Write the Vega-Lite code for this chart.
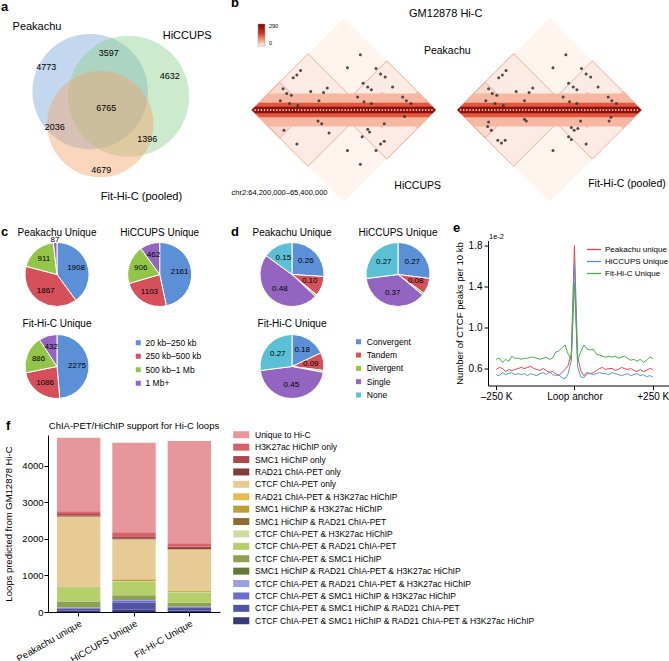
{
"$schema": "https://vega.github.io/schema/vega-lite/v6.json",
"padding": {"left": 1, "top": -3, "right": 0, "bottom": 0},
"background": "white",
"config": {
  "font": "Liberation Sans",
  "view": {"stroke": null},
  "title": {"fontSize": 13, "fontWeight": "bold", "anchor": "start", "frame": "group", "offset": -2, "color": "#000"},
  "axis": {"grid": false, "domainColor": "#000", "tickColor": "#000", "labelColor": "#000", "titleColor": "#000", "titleFontWeight": "normal", "tickSize": 4, "labelFontSize": 10, "titleFontSize": 9.5, "labelPadding": 2},
  "legend": {"labelColor": "#000", "padding": 0},
  "text": {"color": "#000"}
},
"spacing": 18.5,
"resolve": {"scale": {"color": "independent", "size": "independent", "theta": "independent"}, "legend": {"color": "independent", "size": "independent"}},
"vconcat": [
{
 "spacing": 0,
 "resolve": {"scale": {"color": "independent", "size": "independent"}, "legend": {"color": "independent", "size": "independent"}},
 "hconcat": [
  {
   "width": 230, "height": 185,
   "title": {"text": "a", "anchor": "start", "frame": "group", "offset": 4},
   "layer": [
    {
     "data": {"values": [
       {"set": "Peakachu", "cx": 0, "cy": 0, "r": 1.003},
       {"set": "HiCCUPS", "cx": 0.592, "cy": -0.071, "r": 1.051},
       {"set": "Fit-Hi-C (pooled)", "cx": 0.155, "cy": -0.497, "r": 0.923}
     ]},
     "mark": {"type": "point", "shape": "circle", "filled": true, "opacity": 0.45, "strokeWidth": 0},
     "encoding": {
       "x": {"field": "cx", "type": "quantitative", "scale": {"domain": [-1.372, 2.166], "nice": false, "zero": false}, "axis": null},
       "y": {"field": "cy", "type": "quantitative", "scale": {"domain": [-1.712, 1.134], "nice": false, "zero": false}, "axis": null},
       "size": {"field": "r", "type": "quantitative", "scale": {"type": "pow", "exponent": 2, "domain": [0, 1], "range": [0, 13273], "nice": false}, "legend": null},
       "color": {"field": "set", "type": "nominal", "scale": {"domain": ["Peakachu", "HiCCUPS", "Fit-Hi-C (pooled)"], "range": ["#7aa6da", "#8fd18f", "#f5a36c"]}, "legend": null}
     }
    },
    {
     "data": {"values": [
       {"set": "Peakachu", "lx": -0.818, "ly": 0.991},
       {"set": "HiCCUPS", "lx": 1.492, "ly": 0.862},
       {"set": "Fit-Hi-C (pooled)", "lx": 0.789, "ly": -1.625}
     ]},
     "mark": {"type": "text", "fontSize": 11},
     "encoding": {
       "x": {"field": "lx", "type": "quantitative", "axis": null},
       "y": {"field": "ly", "type": "quantitative", "axis": null},
       "text": {"field": "set"}
     }
    },
    {
     "data": {"values": [
       {"region": "Peakachu only", "n": 4773, "lx": -0.675, "ly": 0.375},
       {"region": "Peakachu & HiCCUPS", "n": 3597, "lx": 0.285, "ly": 0.591},
       {"region": "HiCCUPS only", "n": 4632, "lx": 1.223, "ly": 0.237},
       {"region": "All three", "n": 6765, "lx": 0.248, "ly": -0.251},
       {"region": "Peakachu & Fit-Hi-C", "n": 2036, "lx": -0.546, "ly": -0.538},
       {"region": "HiCCUPS & Fit-Hi-C", "n": 1396, "lx": 0.878, "ly": -0.728},
       {"region": "Fit-Hi-C only", "n": 4679, "lx": 0.171, "ly": -1.2}
     ]},
     "mark": {"type": "text", "fontSize": 9},
     "encoding": {
       "x": {"field": "lx", "type": "quantitative", "axis": null},
       "y": {"field": "ly", "type": "quantitative", "axis": null},
       "text": {"field": "n", "type": "quantitative", "format": "d"}
     }
    }
   ]
  },
  {
   "width": 439, "height": 185,
   "title": {"text": "b", "anchor": "start", "frame": "group"},
   "layer": [
    {
     "data": {"values": [
       {"panel": "L", "x": 0, "r": 1.0, "v": 4},
       {"panel": "L", "x": -0.389, "r": 0.612, "v": 10},
       {"panel": "L", "x": 0.468, "r": 0.534, "v": 10},
       {"panel": "L", "x": -0.697, "r": 0.304, "v": 24},
       {"panel": "L", "x": -0.23, "r": 0.163, "v": 30},
       {"panel": "L", "x": 0.078, "r": 0.145, "v": 30},
       {"panel": "L", "x": 0.413, "r": 0.19, "v": 30},
       {"panel": "L", "x": 0.803, "r": 0.2, "v": 27},
       {"panel": "R", "x": 2.234, "r": 1.0, "v": 4},
       {"panel": "R", "x": 1.845, "r": 0.612, "v": 10},
       {"panel": "R", "x": 2.702, "r": 0.534, "v": 10},
       {"panel": "R", "x": 1.537, "r": 0.304, "v": 24},
       {"panel": "R", "x": 2.004, "r": 0.163, "v": 30},
       {"panel": "R", "x": 2.312, "r": 0.145, "v": 30},
       {"panel": "R", "x": 2.647, "r": 0.19, "v": 30},
       {"panel": "R", "x": 3.037, "r": 0.2, "v": 27}
     ]},
     "mark": {"type": "point", "shape": "diamond", "filled": true, "opacity": 1, "strokeWidth": 0},
     "encoding": {
       "x": {"field": "x", "type": "quantitative", "scale": {"domain": [-1.226, 3.546], "nice": false, "zero": false}, "axis": null},
       "y": {"datum": 0, "type": "quantitative", "scale": {"domain": [-1.011, 1.0], "nice": false, "zero": false}, "axis": null},
       "size": {"field": "r", "type": "quantitative", "scale": {"type": "pow", "exponent": 2, "domain": [0, 1], "range": [0, 33856], "nice": false}, "legend": null},
       "color": {"field": "v", "type": "quantitative",
         "scale": {"domain": [0, 10, 30, 80, 160, 290], "range": ["#ffffff", "#fceae4", "#f8d3c6", "#f29a82", "#d93a26", "#7a0000"], "nice": false},
         "legend": {"orient": "none", "legendX": 27, "legendY": 6, "title": null, "direction": "vertical", "gradientLength": 22, "gradientThickness": 7, "labelFontSize": 5.5, "values": [0, 290], "labelOffset": 4, "gradientStrokeColor": "#999", "gradientStrokeWidth": 0.5, "labelOverlap": false}}
     }
    },
    {
     "data": {"values": [
       {"x": -0.389, "r": 0.612}, {"x": 0.468, "r": 0.534}, {"x": -0.697, "r": 0.304}, {"x": -0.23, "r": 0.163},
       {"x": 0.078, "r": 0.145}, {"x": 0.413, "r": 0.19}, {"x": 0.803, "r": 0.2},
       {"x": 1.845, "r": 0.612}, {"x": 2.702, "r": 0.534}, {"x": 1.537, "r": 0.304}, {"x": 2.004, "r": 0.163},
       {"x": 2.312, "r": 0.145}, {"x": 2.647, "r": 0.19}, {"x": 3.037, "r": 0.2}
     ]},
     "mark": {"type": "point", "shape": "diamond", "filled": false, "opacity": 1, "stroke": "#f0a58f", "strokeWidth": 0.9},
     "encoding": {
       "x": {"field": "x", "type": "quantitative", "axis": null},
       "y": {"datum": 0, "type": "quantitative", "axis": null},
       "size": {"field": "r", "type": "quantitative", "legend": null}
     }
    },
    {
     "data": {"values": [
       {"band": "L1", "x": -1, "y": 0, "y2": 0, "v": 55},
       {"band": "L1", "x": -0.82, "y": 0.18, "y2": -0.18, "v": 55},
       {"band": "L1", "x": 0.82, "y": 0.18, "y2": -0.18, "v": 55},
       {"band": "L1", "x": 1, "y": 0, "y2": 0, "v": 55},
       {"band": "L2", "x": -1, "y": 0, "y2": 0, "v": 140},
       {"band": "L2", "x": -0.92, "y": 0.08, "y2": -0.08, "v": 140},
       {"band": "L2", "x": 0.92, "y": 0.08, "y2": -0.08, "v": 140},
       {"band": "L2", "x": 1, "y": 0, "y2": 0, "v": 140},
       {"band": "L3", "x": -1, "y": 0, "y2": 0, "v": 260},
       {"band": "L3", "x": -0.965, "y": 0.035, "y2": -0.035, "v": 260},
       {"band": "L3", "x": 0.965, "y": 0.035, "y2": -0.035, "v": 260},
       {"band": "L3", "x": 1, "y": 0, "y2": 0, "v": 260},
       {"band": "R1", "x": 1.234, "y": 0, "y2": 0, "v": 55},
       {"band": "R1", "x": 1.414, "y": 0.18, "y2": -0.18, "v": 55},
       {"band": "R1", "x": 3.054, "y": 0.18, "y2": -0.18, "v": 55},
       {"band": "R1", "x": 3.234, "y": 0, "y2": 0, "v": 55},
       {"band": "R2", "x": 1.234, "y": 0, "y2": 0, "v": 140},
       {"band": "R2", "x": 1.314, "y": 0.08, "y2": -0.08, "v": 140},
       {"band": "R2", "x": 3.154, "y": 0.08, "y2": -0.08, "v": 140},
       {"band": "R2", "x": 3.234, "y": 0, "y2": 0, "v": 140},
       {"band": "R3", "x": 1.234, "y": 0, "y2": 0, "v": 260},
       {"band": "R3", "x": 1.269, "y": 0.035, "y2": -0.035, "v": 260},
       {"band": "R3", "x": 3.199, "y": 0.035, "y2": -0.035, "v": 260},
       {"band": "R3", "x": 3.234, "y": 0, "y2": 0, "v": 260}
     ]},
     "mark": {"type": "area", "opacity": 1, "interpolate": "linear"},
     "encoding": {
       "x": {"field": "x", "type": "quantitative", "axis": null},
       "y": {"field": "y", "type": "quantitative", "axis": null},
       "y2": {"field": "y2"},
       "detail": {"field": "band"},
       "color": {"field": "v", "type": "quantitative"}
     }
    },
    {
     "data": {"values": [{"x": -0.97, "x2": 0.97}, {"x": 1.264, "x2": 3.204}]},
     "mark": {"type": "rule", "color": "white", "strokeWidth": 1.3, "strokeDash": [1.3, 1.8]},
     "encoding": {
       "x": {"field": "x", "type": "quantitative", "axis": null},
       "x2": {"field": "x2"},
       "y": {"datum": 0, "type": "quantitative", "axis": null}
     }
    },
    {
     "data": {"values": [
       {"x": 0.18, "y": 0.60}, {"x": 0.04, "y": 0.46}, {"x": 0.35, "y": 0.45}, {"x": 0.40, "y": 0.39}, {"x": 0.45, "y": 0.36},
       {"x": -0.47, "y": 0.43}, {"x": -0.51, "y": 0.38}, {"x": -0.55, "y": 0.35}, {"x": -0.18, "y": 0.24}, {"x": -0.36, "y": 0.20},
       {"x": -0.22, "y": 0.19}, {"x": 0.21, "y": 0.29}, {"x": 0.26, "y": 0.25}, {"x": 0.30, "y": 0.22}, {"x": 0.53, "y": 0.25},
       {"x": -0.66, "y": 0.23}, {"x": -0.62, "y": 0.18}, {"x": -0.57, "y": 0.16}, {"x": 0.15, "y": 0.14}, {"x": -0.69, "y": 0.10},
       {"x": -0.59, "y": 0.07}, {"x": -0.50, "y": 0.05}, {"x": -0.27, "y": 0.10}, {"x": 0.22, "y": 0.09}, {"x": 0.30, "y": 0.07},
       {"x": 0.64, "y": 0.14}, {"x": 0.68, "y": 0.10}, {"x": 0.73, "y": 0.07},
       {"x": 2.414, "y": 0.60}, {"x": 2.274, "y": 0.46}, {"x": 2.584, "y": 0.45}, {"x": 2.634, "y": 0.39}, {"x": 2.684, "y": 0.36},
       {"x": 1.764, "y": 0.43}, {"x": 1.724, "y": 0.38}, {"x": 1.684, "y": 0.35}, {"x": 2.054, "y": 0.24}, {"x": 1.874, "y": 0.20},
       {"x": 2.014, "y": 0.19}, {"x": 2.444, "y": 0.29}, {"x": 2.494, "y": 0.25}, {"x": 2.534, "y": 0.22}, {"x": 2.764, "y": 0.25},
       {"x": 1.574, "y": 0.23}, {"x": 1.614, "y": 0.18}, {"x": 1.664, "y": 0.16}, {"x": 2.384, "y": 0.14}, {"x": 1.544, "y": 0.10},
       {"x": 1.644, "y": 0.07}, {"x": 1.734, "y": 0.05}, {"x": 1.964, "y": 0.10}, {"x": 2.454, "y": 0.09}, {"x": 2.534, "y": 0.07},
       {"x": 2.874, "y": 0.14}, {"x": 2.914, "y": 0.10}, {"x": 2.964, "y": 0.07},
       {"x": -0.28, "y": -0.12}, {"x": -0.24, "y": -0.15}, {"x": -0.65, "y": -0.22}, {"x": -0.16, "y": -0.25}, {"x": -0.51, "y": -0.37},
       {"x": 0.04, "y": -0.44}, {"x": 0.35, "y": -0.44}, {"x": 0.18, "y": -0.59}, {"x": 0.44, "y": -0.15}, {"x": 0.26, "y": -0.21},
       {"x": 0.28, "y": -0.24}, {"x": 0.40, "y": -0.37}, {"x": 0.44, "y": -0.34}, {"x": 0.66, "y": -0.07}, {"x": 0.20, "y": -0.29},
       {"x": 1.564, "y": -0.18}, {"x": 1.604, "y": -0.22}, {"x": 1.574, "y": -0.13}, {"x": 1.674, "y": -0.33}, {"x": 1.714, "y": -0.36},
       {"x": 1.754, "y": -0.33}, {"x": 1.964, "y": -0.10}, {"x": 1.984, "y": -0.12}, {"x": 2.274, "y": -0.44}, {"x": 2.474, "y": -0.19},
       {"x": 2.504, "y": -0.22}, {"x": 2.544, "y": -0.20}, {"x": 2.444, "y": -0.29}, {"x": 2.474, "y": -0.32}, {"x": 2.574, "y": -0.12},
       {"x": 2.634, "y": -0.37}, {"x": 2.884, "y": -0.12}, {"x": 2.904, "y": -0.08}
     ]},
     "mark": {"type": "point", "shape": "circle", "filled": true, "size": 9, "color": "#3a3a3a", "opacity": 0.9},
     "encoding": {
       "x": {"field": "x", "type": "quantitative", "axis": null},
       "y": {"field": "y", "type": "quantitative", "axis": null}
     }
    },
    {
     "data": {"values": [
       {"label": "Peakachu", "x": 1.125, "y": 0.645},
       {"label": "HiCCUPS", "x": 0.803, "y": -0.823},
       {"label": "Fit-Hi-C (pooled)", "x": 3.078, "y": -0.804}
     ]},
     "mark": {"type": "text", "fontSize": 10.5},
     "encoding": {
       "x": {"field": "x", "type": "quantitative", "axis": null},
       "y": {"field": "y", "type": "quantitative", "axis": null},
       "text": {"field": "label"}
     }
    },
    {
     "data": {"values": [{"label": "GM12878 Hi-C", "x": 1.108, "y": 1.043}]},
     "mark": {"type": "text", "fontSize": 11},
     "encoding": {
       "x": {"field": "x", "type": "quantitative", "axis": null},
       "y": {"field": "y", "type": "quantitative", "axis": null},
       "text": {"field": "label"}
     }
    },
    {
     "data": {"values": [{"label": "chr2:64,200,000–65,400,000", "x": -1.22, "y": -0.905}]},
     "mark": {"type": "text", "fontSize": 7.5, "align": "left"},
     "encoding": {
       "x": {"field": "x", "type": "quantitative", "axis": null},
       "y": {"field": "y", "type": "quantitative", "axis": null},
       "text": {"field": "label"}
     }
    }
   ]
  }
 ]
},
{
 "spacing": 0,
 "resolve": {"scale": {"color": "independent", "theta": "independent"}, "legend": {"color": "independent"}},
 "hconcat": [
  {
   "width": 230, "height": 160,
   "title": {"text": "c", "anchor": "start", "frame": "group", "offset": -11},
   "data": {"values": [
     {"pie": "Peakachu Unique", "col": 1, "row": 1, "cat": "20 kb–250 kb", "k": 1, "n": 1908},
     {"pie": "Peakachu Unique", "col": 1, "row": 1, "cat": "250 kb–500 kb", "k": 2, "n": 1867},
     {"pie": "Peakachu Unique", "col": 1, "row": 1, "cat": "500 kb–1 Mb", "k": 3, "n": 911},
     {"pie": "Peakachu Unique", "col": 1, "row": 1, "cat": "1 Mb+", "k": 4, "n": 87},
     {"pie": "HiCCUPS Unique", "col": 2, "row": 1, "cat": "20 kb–250 kb", "k": 1, "n": 2161},
     {"pie": "HiCCUPS Unique", "col": 2, "row": 1, "cat": "250 kb–500 kb", "k": 2, "n": 1103},
     {"pie": "HiCCUPS Unique", "col": 2, "row": 1, "cat": "500 kb–1 Mb", "k": 3, "n": 906},
     {"pie": "HiCCUPS Unique", "col": 2, "row": 1, "cat": "1 Mb+", "k": 4, "n": 462},
     {"pie": "Fit-Hi-C Unique", "col": 1, "row": 2, "cat": "20 kb–250 kb", "k": 1, "n": 2275},
     {"pie": "Fit-Hi-C Unique", "col": 1, "row": 2, "cat": "250 kb–500 kb", "k": 2, "n": 1086},
     {"pie": "Fit-Hi-C Unique", "col": 1, "row": 2, "cat": "500 kb–1 Mb", "k": 3, "n": 886},
     {"pie": "Fit-Hi-C Unique", "col": 1, "row": 2, "cat": "1 Mb+", "k": 4, "n": 432}
   ]},
   "encoding": {
     "x": {"field": "col", "type": "quantitative", "scale": {"domain": [0.4547, 2.6943], "nice": false, "zero": false}, "axis": null},
     "y": {"field": "row", "type": "quantitative", "scale": {"domain": [0.6304, 2.3696], "reverse": true, "nice": false, "zero": false}, "axis": null}
   },
   "layer": [
    {"transform": [{"filter": {"field": "pie", "equal": "Peakachu Unique"}}],
     "mark": {"type": "arc", "outerRadius": 32, "stroke": "white", "strokeWidth": 1},
     "encoding": {"theta": {"field": "n", "type": "quantitative", "stack": "normalize"}, "order": {"field": "k", "type": "quantitative"},
       "color": {"field": "cat", "type": "nominal", "scale": {"domain": ["20 kb–250 kb", "250 kb–500 kb", "500 kb–1 Mb", "1 Mb+"], "range": ["#5b8fd6", "#d5505b", "#93c548", "#9465c0"]},
         "legend": {"orient": "none", "legendX": 133, "legendY": 98, "title": null, "symbolType": "square", "symbolSize": 25, "symbolStrokeWidth": 0, "labelFontSize": 8.5, "rowPadding": 4.5, "labelOffset": 3}}}},
    {"transform": [{"filter": {"field": "pie", "equal": "HiCCUPS Unique"}}],
     "mark": {"type": "arc", "outerRadius": 32, "stroke": "white", "strokeWidth": 1},
     "encoding": {"theta": {"field": "n", "type": "quantitative", "stack": "normalize"}, "order": {"field": "k", "type": "quantitative"},
       "color": {"field": "cat", "type": "nominal"}}},
    {"transform": [{"filter": {"field": "pie", "equal": "Fit-Hi-C Unique"}}],
     "mark": {"type": "arc", "outerRadius": 32, "stroke": "white", "strokeWidth": 1},
     "encoding": {"theta": {"field": "n", "type": "quantitative", "stack": "normalize"}, "order": {"field": "k", "type": "quantitative"},
       "color": {"field": "cat", "type": "nominal"}}},
    {"transform": [{"filter": {"field": "pie", "equal": "Peakachu Unique"}}],
     "mark": {"type": "text", "radius": 20, "fontSize": 8},
     "encoding": {"theta": {"field": "n", "type": "quantitative", "stack": "normalize"}, "order": {"field": "k", "type": "quantitative"}, "detail": {"field": "cat"},
       "text": {"condition": {"test": "datum.n >= 100", "field": "n", "type": "quantitative", "format": "d"}, "value": ""}}},
    {"transform": [{"filter": {"field": "pie", "equal": "Peakachu Unique"}}],
     "mark": {"type": "text", "radius": 35, "fontSize": 8},
     "encoding": {"theta": {"field": "n", "type": "quantitative", "stack": "normalize"}, "order": {"field": "k", "type": "quantitative"}, "detail": {"field": "cat"},
       "text": {"condition": {"test": "datum.n < 100", "field": "n", "type": "quantitative", "format": "d"}, "value": ""}}},
    {"transform": [{"filter": {"field": "pie", "equal": "HiCCUPS Unique"}}],
     "mark": {"type": "text", "radius": 20, "fontSize": 8},
     "encoding": {"theta": {"field": "n", "type": "quantitative", "stack": "normalize"}, "order": {"field": "k", "type": "quantitative"}, "detail": {"field": "cat"},
       "text": {"field": "n", "type": "quantitative", "format": "d"}}},
    {"transform": [{"filter": {"field": "pie", "equal": "Fit-Hi-C Unique"}}],
     "mark": {"type": "text", "radius": 20, "fontSize": 8},
     "encoding": {"theta": {"field": "n", "type": "quantitative", "stack": "normalize"}, "order": {"field": "k", "type": "quantitative"}, "detail": {"field": "cat"},
       "text": {"field": "n", "type": "quantitative", "format": "d"}}},
    {"data": {"values": [
       {"pie": "Peakachu Unique", "col": 1, "row": 1},
       {"pie": "HiCCUPS Unique", "col": 2, "row": 1},
       {"pie": "Fit-Hi-C Unique", "col": 1, "row": 2}
     ]},
     "mark": {"type": "text", "fontSize": 10, "dy": -42},
     "encoding": {"text": {"field": "pie"}}}
   ]
  },
  {
   "width": 222, "height": 160,
   "title": {"text": "d", "anchor": "start", "frame": "group", "offset": -11},
   "data": {"values": [
     {"pie": "Peakachu Unique", "col": 1, "row": 1, "cat": "Convergent", "k": 1, "f": 0.26},
     {"pie": "Peakachu Unique", "col": 1, "row": 1, "cat": "Tandem", "k": 2, "f": 0.10},
     {"pie": "Peakachu Unique", "col": 1, "row": 1, "cat": "Divergent", "k": 3, "f": 0.01},
     {"pie": "Peakachu Unique", "col": 1, "row": 1, "cat": "Single", "k": 4, "f": 0.48},
     {"pie": "Peakachu Unique", "col": 1, "row": 1, "cat": "None", "k": 5, "f": 0.15},
     {"pie": "HiCCUPS Unique", "col": 2, "row": 1, "cat": "Convergent", "k": 1, "f": 0.27},
     {"pie": "HiCCUPS Unique", "col": 2, "row": 1, "cat": "Tandem", "k": 2, "f": 0.08},
     {"pie": "HiCCUPS Unique", "col": 2, "row": 1, "cat": "Divergent", "k": 3, "f": 0.01},
     {"pie": "HiCCUPS Unique", "col": 2, "row": 1, "cat": "Single", "k": 4, "f": 0.37},
     {"pie": "HiCCUPS Unique", "col": 2, "row": 1, "cat": "None", "k": 5, "f": 0.27},
     {"pie": "Fit-Hi-C Unique", "col": 1, "row": 2, "cat": "Convergent", "k": 1, "f": 0.18},
     {"pie": "Fit-Hi-C Unique", "col": 1, "row": 2, "cat": "Tandem", "k": 2, "f": 0.09},
     {"pie": "Fit-Hi-C Unique", "col": 1, "row": 2, "cat": "Divergent", "k": 3, "f": 0.01},
     {"pie": "Fit-Hi-C Unique", "col": 1, "row": 2, "cat": "Single", "k": 4, "f": 0.45},
     {"pie": "Fit-Hi-C Unique", "col": 1, "row": 2, "cat": "None", "k": 5, "f": 0.27}
   ]},
   "encoding": {
     "x": {"field": "col", "type": "quantitative", "scale": {"domain": [0.4245, 2.5189], "nice": false, "zero": false}, "axis": null},
     "y": {"field": "row", "type": "quantitative", "scale": {"domain": [0.6304, 2.3696], "reverse": true, "nice": false, "zero": false}, "axis": null}
   },
   "layer": [
    {"transform": [{"filter": {"field": "pie", "equal": "Peakachu Unique"}}],
     "mark": {"type": "arc", "outerRadius": 32, "stroke": "white", "strokeWidth": 1},
     "encoding": {"theta": {"field": "f", "type": "quantitative", "stack": "normalize"}, "order": {"field": "k", "type": "quantitative"},
       "color": {"field": "cat", "type": "nominal", "scale": {"domain": ["Convergent", "Tandem", "Divergent", "Single", "None"], "range": ["#5b8fd6", "#d5505b", "#93c548", "#9465c0", "#5bc0d6"]},
         "legend": {"orient": "none", "legendX": 123.3, "legendY": 97, "title": null, "symbolType": "square", "symbolSize": 25, "symbolStrokeWidth": 0, "labelFontSize": 8.5, "rowPadding": 4.3, "labelOffset": 4}}}},
    {"transform": [{"filter": {"field": "pie", "equal": "HiCCUPS Unique"}}],
     "mark": {"type": "arc", "outerRadius": 32, "stroke": "white", "strokeWidth": 1},
     "encoding": {"theta": {"field": "f", "type": "quantitative", "stack": "normalize"}, "order": {"field": "k", "type": "quantitative"},
       "color": {"field": "cat", "type": "nominal"}}},
    {"transform": [{"filter": {"field": "pie", "equal": "Fit-Hi-C Unique"}}],
     "mark": {"type": "arc", "outerRadius": 32, "stroke": "white", "strokeWidth": 1},
     "encoding": {"theta": {"field": "f", "type": "quantitative", "stack": "normalize"}, "order": {"field": "k", "type": "quantitative"},
       "color": {"field": "cat", "type": "nominal"}}},
    {"transform": [{"filter": {"field": "pie", "equal": "Peakachu Unique"}}],
     "mark": {"type": "text", "radius": 19, "fontSize": 8},
     "encoding": {"theta": {"field": "f", "type": "quantitative", "stack": "normalize"}, "order": {"field": "k", "type": "quantitative"}, "detail": {"field": "cat"},
       "text": {"condition": {"test": "datum.cat !== 'Divergent'", "field": "f", "type": "quantitative", "format": ".2f"}, "value": ""}}},
    {"transform": [{"filter": {"field": "pie", "equal": "HiCCUPS Unique"}}],
     "mark": {"type": "text", "radius": 19, "fontSize": 8},
     "encoding": {"theta": {"field": "f", "type": "quantitative", "stack": "normalize"}, "order": {"field": "k", "type": "quantitative"}, "detail": {"field": "cat"},
       "text": {"condition": {"test": "datum.cat !== 'Divergent'", "field": "f", "type": "quantitative", "format": ".2f"}, "value": ""}}},
    {"transform": [{"filter": {"field": "pie", "equal": "Fit-Hi-C Unique"}}],
     "mark": {"type": "text", "radius": 19, "fontSize": 8},
     "encoding": {"theta": {"field": "f", "type": "quantitative", "stack": "normalize"}, "order": {"field": "k", "type": "quantitative"}, "detail": {"field": "cat"},
       "text": {"condition": {"test": "datum.cat !== 'Divergent'", "field": "f", "type": "quantitative", "format": ".2f"}, "value": ""}}},
    {"data": {"values": [
       {"pie": "Peakachu Unique", "col": 1, "row": 1},
       {"pie": "HiCCUPS Unique", "col": 2, "row": 1},
       {"pie": "Fit-Hi-C Unique", "col": 1, "row": 2}
     ]},
     "mark": {"type": "text", "fontSize": 10, "dy": -42},
     "encoding": {"text": {"field": "pie"}}}
   ]
  },
  {
   "width": 181, "height": 145,
   "title": {"text": "e", "anchor": "start", "frame": "group", "dx": -35},
   "layer": [
    {
     "data": {"values": [
{"s":"Peakachu unique","pos":-250,"v":0.59},{"s":"Peakachu unique","pos":-240,"v":0.61},{"s":"Peakachu unique","pos":-230,"v":0.60},{"s":"Peakachu unique","pos":-220,"v":0.57},{"s":"Peakachu unique","pos":-210,"v":0.59},{"s":"Peakachu unique","pos":-200,"v":0.58},{"s":"Peakachu unique","pos":-190,"v":0.59},{"s":"Peakachu unique","pos":-180,"v":0.60},{"s":"Peakachu unique","pos":-170,"v":0.61},{"s":"Peakachu unique","pos":-160,"v":0.60},{"s":"Peakachu unique","pos":-150,"v":0.61},{"s":"Peakachu unique","pos":-140,"v":0.62},{"s":"Peakachu unique","pos":-130,"v":0.60},{"s":"Peakachu unique","pos":-120,"v":0.59},{"s":"Peakachu unique","pos":-110,"v":0.58},{"s":"Peakachu unique","pos":-100,"v":0.60},{"s":"Peakachu unique","pos":-90,"v":0.58},{"s":"Peakachu unique","pos":-80,"v":0.56},{"s":"Peakachu unique","pos":-70,"v":0.57},{"s":"Peakachu unique","pos":-60,"v":0.55},{"s":"Peakachu unique","pos":-50,"v":0.53},{"s":"Peakachu unique","pos":-40,"v":0.56},{"s":"Peakachu unique","pos":-30,"v":0.59},{"s":"Peakachu unique","pos":-20,"v":0.63},{"s":"Peakachu unique","pos":-10,"v":0.75},{"s":"Peakachu unique","pos":0,"v":1.80},{"s":"Peakachu unique","pos":10,"v":0.72},{"s":"Peakachu unique","pos":20,"v":0.58},{"s":"Peakachu unique","pos":30,"v":0.53},{"s":"Peakachu unique","pos":40,"v":0.56},{"s":"Peakachu unique","pos":50,"v":0.55},{"s":"Peakachu unique","pos":60,"v":0.56},{"s":"Peakachu unique","pos":70,"v":0.58},{"s":"Peakachu unique","pos":80,"v":0.60},{"s":"Peakachu unique","pos":90,"v":0.61},{"s":"Peakachu unique","pos":100,"v":0.59},{"s":"Peakachu unique","pos":110,"v":0.60},{"s":"Peakachu unique","pos":120,"v":0.60},{"s":"Peakachu unique","pos":130,"v":0.58},{"s":"Peakachu unique","pos":140,"v":0.59},{"s":"Peakachu unique","pos":150,"v":0.61},{"s":"Peakachu unique","pos":160,"v":0.60},{"s":"Peakachu unique","pos":170,"v":0.59},{"s":"Peakachu unique","pos":180,"v":0.60},{"s":"Peakachu unique","pos":190,"v":0.58},{"s":"Peakachu unique","pos":200,"v":0.57},{"s":"Peakachu unique","pos":210,"v":0.59},{"s":"Peakachu unique","pos":220,"v":0.57},{"s":"Peakachu unique","pos":230,"v":0.58},{"s":"Peakachu unique","pos":240,"v":0.60},{"s":"Peakachu unique","pos":250,"v":0.59},
{"s":"HiCCUPS Unique","pos":-250,"v":0.54},{"s":"HiCCUPS Unique","pos":-240,"v":0.53},{"s":"HiCCUPS Unique","pos":-230,"v":0.56},{"s":"HiCCUPS Unique","pos":-220,"v":0.54},{"s":"HiCCUPS Unique","pos":-210,"v":0.55},{"s":"HiCCUPS Unique","pos":-200,"v":0.56},{"s":"HiCCUPS Unique","pos":-190,"v":0.54},{"s":"HiCCUPS Unique","pos":-180,"v":0.55},{"s":"HiCCUPS Unique","pos":-170,"v":0.54},{"s":"HiCCUPS Unique","pos":-160,"v":0.55},{"s":"HiCCUPS Unique","pos":-150,"v":0.53},{"s":"HiCCUPS Unique","pos":-140,"v":0.55},{"s":"HiCCUPS Unique","pos":-130,"v":0.54},{"s":"HiCCUPS Unique","pos":-120,"v":0.53},{"s":"HiCCUPS Unique","pos":-110,"v":0.55},{"s":"HiCCUPS Unique","pos":-100,"v":0.56},{"s":"HiCCUPS Unique","pos":-90,"v":0.54},{"s":"HiCCUPS Unique","pos":-80,"v":0.57},{"s":"HiCCUPS Unique","pos":-70,"v":0.54},{"s":"HiCCUPS Unique","pos":-60,"v":0.53},{"s":"HiCCUPS Unique","pos":-50,"v":0.54},{"s":"HiCCUPS Unique","pos":-40,"v":0.51},{"s":"HiCCUPS Unique","pos":-30,"v":0.50},{"s":"HiCCUPS Unique","pos":-20,"v":0.55},{"s":"HiCCUPS Unique","pos":-10,"v":0.68},{"s":"HiCCUPS Unique","pos":0,"v":1.63},{"s":"HiCCUPS Unique","pos":10,"v":0.62},{"s":"HiCCUPS Unique","pos":20,"v":0.52},{"s":"HiCCUPS Unique","pos":30,"v":0.51},{"s":"HiCCUPS Unique","pos":40,"v":0.55},{"s":"HiCCUPS Unique","pos":50,"v":0.55},{"s":"HiCCUPS Unique","pos":60,"v":0.54},{"s":"HiCCUPS Unique","pos":70,"v":0.55},{"s":"HiCCUPS Unique","pos":80,"v":0.56},{"s":"HiCCUPS Unique","pos":90,"v":0.55},{"s":"HiCCUPS Unique","pos":100,"v":0.55},{"s":"HiCCUPS Unique","pos":110,"v":0.54},{"s":"HiCCUPS Unique","pos":120,"v":0.56},{"s":"HiCCUPS Unique","pos":130,"v":0.55},{"s":"HiCCUPS Unique","pos":140,"v":0.54},{"s":"HiCCUPS Unique","pos":150,"v":0.53},{"s":"HiCCUPS Unique","pos":160,"v":0.54},{"s":"HiCCUPS Unique","pos":170,"v":0.55},{"s":"HiCCUPS Unique","pos":180,"v":0.53},{"s":"HiCCUPS Unique","pos":190,"v":0.54},{"s":"HiCCUPS Unique","pos":200,"v":0.55},{"s":"HiCCUPS Unique","pos":210,"v":0.53},{"s":"HiCCUPS Unique","pos":220,"v":0.54},{"s":"HiCCUPS Unique","pos":230,"v":0.52},{"s":"HiCCUPS Unique","pos":240,"v":0.53},{"s":"HiCCUPS Unique","pos":250,"v":0.52},
{"s":"Fit-Hi-C Unique","pos":-250,"v":0.69},{"s":"Fit-Hi-C Unique","pos":-240,"v":0.70},{"s":"Fit-Hi-C Unique","pos":-230,"v":0.66},{"s":"Fit-Hi-C Unique","pos":-220,"v":0.69},{"s":"Fit-Hi-C Unique","pos":-210,"v":0.67},{"s":"Fit-Hi-C Unique","pos":-200,"v":0.72},{"s":"Fit-Hi-C Unique","pos":-190,"v":0.70},{"s":"Fit-Hi-C Unique","pos":-180,"v":0.70},{"s":"Fit-Hi-C Unique","pos":-170,"v":0.69},{"s":"Fit-Hi-C Unique","pos":-160,"v":0.70},{"s":"Fit-Hi-C Unique","pos":-150,"v":0.70},{"s":"Fit-Hi-C Unique","pos":-140,"v":0.71},{"s":"Fit-Hi-C Unique","pos":-130,"v":0.71},{"s":"Fit-Hi-C Unique","pos":-120,"v":0.70},{"s":"Fit-Hi-C Unique","pos":-110,"v":0.69},{"s":"Fit-Hi-C Unique","pos":-100,"v":0.70},{"s":"Fit-Hi-C Unique","pos":-90,"v":0.71},{"s":"Fit-Hi-C Unique","pos":-80,"v":0.69},{"s":"Fit-Hi-C Unique","pos":-70,"v":0.70},{"s":"Fit-Hi-C Unique","pos":-60,"v":0.76},{"s":"Fit-Hi-C Unique","pos":-50,"v":0.77},{"s":"Fit-Hi-C Unique","pos":-40,"v":0.80},{"s":"Fit-Hi-C Unique","pos":-30,"v":0.83},{"s":"Fit-Hi-C Unique","pos":-20,"v":0.74},{"s":"Fit-Hi-C Unique","pos":-10,"v":0.68},{"s":"Fit-Hi-C Unique","pos":0,"v":1.43},{"s":"Fit-Hi-C Unique","pos":10,"v":0.68},{"s":"Fit-Hi-C Unique","pos":20,"v":0.76},{"s":"Fit-Hi-C Unique","pos":30,"v":0.83},{"s":"Fit-Hi-C Unique","pos":40,"v":0.79},{"s":"Fit-Hi-C Unique","pos":50,"v":0.78},{"s":"Fit-Hi-C Unique","pos":60,"v":0.79},{"s":"Fit-Hi-C Unique","pos":70,"v":0.74},{"s":"Fit-Hi-C Unique","pos":80,"v":0.73},{"s":"Fit-Hi-C Unique","pos":90,"v":0.72},{"s":"Fit-Hi-C Unique","pos":100,"v":0.71},{"s":"Fit-Hi-C Unique","pos":110,"v":0.72},{"s":"Fit-Hi-C Unique","pos":120,"v":0.71},{"s":"Fit-Hi-C Unique","pos":130,"v":0.72},{"s":"Fit-Hi-C Unique","pos":140,"v":0.70},{"s":"Fit-Hi-C Unique","pos":150,"v":0.71},{"s":"Fit-Hi-C Unique","pos":160,"v":0.72},{"s":"Fit-Hi-C Unique","pos":170,"v":0.70},{"s":"Fit-Hi-C Unique","pos":180,"v":0.68},{"s":"Fit-Hi-C Unique","pos":190,"v":0.69},{"s":"Fit-Hi-C Unique","pos":200,"v":0.67},{"s":"Fit-Hi-C Unique","pos":210,"v":0.69},{"s":"Fit-Hi-C Unique","pos":220,"v":0.66},{"s":"Fit-Hi-C Unique","pos":230,"v":0.68},{"s":"Fit-Hi-C Unique","pos":240,"v":0.71},{"s":"Fit-Hi-C Unique","pos":250,"v":0.70}
     ]},
     "mark": {"type": "line", "strokeWidth": 1},
     "encoding": {
       "x": {"field": "pos", "type": "quantitative", "scale": {"domain": [-276, 302], "nice": false, "zero": false},
         "axis": {"values": [-250, 0, 250], "labelExpr": "datum.value == 0 ? 'Loop anchor' : (datum.value < 0 ? '–250 K' : '+250 K')", "title": null, "labelFontSize": 10}},
       "y": {"field": "v", "type": "quantitative", "scale": {"domain": [0.434, 1.849], "nice": false, "zero": false},
         "axis": {"values": [0.6, 0.8, 1.0, 1.2, 1.4, 1.6, 1.8], "format": ".1f", "title": "Number of CTCF peaks per 10 kb", "titlePadding": 4, "labelFontSize": 10}},
       "color": {"field": "s", "type": "nominal", "sort": null,
         "scale": {"domain": ["Peakachu unique", "HiCCUPS Unique", "Fit-Hi-C Unique"], "range": ["#e8434c", "#4d97d6", "#46b048"]},
         "legend": {"orient": "none", "legendX": 98, "legendY": 1, "title": null, "symbolType": "stroke", "symbolSize": 196, "symbolStrokeWidth": 1.3, "labelFontSize": 8, "rowPadding": 0, "labelOffset": 3}}
     }
    },
    {
     "data": {"values": [{"t": "1e-2"}]},
     "mark": {"type": "text", "align": "left", "baseline": "bottom", "fontSize": 7.5, "dx": 1, "dy": 0},
     "encoding": {
       "x": {"datum": -276, "type": "quantitative"},
       "y": {"datum": 1.849, "type": "quantitative"},
       "text": {"field": "t"}
     }
    }
   ]
  }
 ]
},
{
 "spacing": 0,
 "resolve": {"scale": {"color": "independent"}, "legend": {"color": "independent"}},
 "hconcat": [
  {
   "width": 2, "height": 10,
   "data": {"values": [{"t": ""}]},
   "mark": {"type": "text"},
   "encoding": {"text": {"field": "t"}}
  },
  {
   "width": 172, "height": 177,
   "title": {"text": "f", "anchor": "start", "frame": "group", "dx": -42, "offset": -12},
   "layer": [
    {
     "data": {"values": [
{"group":"Peakachu unique","cat":"CTCF ChIA-PET & SMC1 HiChIP & RAD21 ChIA-PET & H3K27ac HiChIP","k":1,"n":40},
{"group":"Peakachu unique","cat":"CTCF ChIA-PET & SMC1 HiChIP & RAD21 ChIA-PET","k":2,"n":55},
{"group":"Peakachu unique","cat":"CTCF ChIA-PET & SMC1 HiChIP & H3K27ac HiChIP","k":3,"n":15},
{"group":"Peakachu unique","cat":"CTCF ChIA-PET & RAD21 ChIA-PET & H3K27ac HiChIP","k":4,"n":10},
{"group":"Peakachu unique","cat":"SMC1 HiChIP & RAD21 ChIA-PET & H3K27ac HiChIP","k":5,"n":5},
{"group":"Peakachu unique","cat":"CTCF ChIA-PET & SMC1 HiChIP","k":6,"n":165},
{"group":"Peakachu unique","cat":"CTCF ChIA-PET & RAD21 ChIA-PET","k":7,"n":370},
{"group":"Peakachu unique","cat":"CTCF ChIA-PET & H3K27ac HiChIP","k":8,"n":20},
{"group":"Peakachu unique","cat":"SMC1 HiChIP & RAD21 ChIA-PET","k":9,"n":5},
{"group":"Peakachu unique","cat":"SMC1 HiChIP & H3K27ac HiChIP","k":10,"n":5},
{"group":"Peakachu unique","cat":"RAD21 ChIA-PET & H3K27ac HiChIP","k":11,"n":15},
{"group":"Peakachu unique","cat":"CTCF ChIA-PET only","k":12,"n":1910},
{"group":"Peakachu unique","cat":"RAD21 ChIA-PET only","k":13,"n":25},
{"group":"Peakachu unique","cat":"SMC1 HiChIP only","k":14,"n":45},
{"group":"Peakachu unique","cat":"H3K27ac HiChIP only","k":15,"n":75},
{"group":"Peakachu unique","cat":"Unique to Hi-C","k":16,"n":2013},
{"group":"HiCCUPS Unique","cat":"CTCF ChIA-PET & SMC1 HiChIP & RAD21 ChIA-PET & H3K27ac HiChIP","k":1,"n":64},
{"group":"HiCCUPS Unique","cat":"CTCF ChIA-PET & SMC1 HiChIP & RAD21 ChIA-PET","k":2,"n":190},
{"group":"HiCCUPS Unique","cat":"CTCF ChIA-PET & SMC1 HiChIP & H3K27ac HiChIP","k":3,"n":45},
{"group":"HiCCUPS Unique","cat":"CTCF ChIA-PET & RAD21 ChIA-PET & H3K27ac HiChIP","k":4,"n":27},
{"group":"HiCCUPS Unique","cat":"SMC1 HiChIP & RAD21 ChIA-PET & H3K27ac HiChIP","k":5,"n":5},
{"group":"HiCCUPS Unique","cat":"CTCF ChIA-PET & SMC1 HiChIP","k":6,"n":130},
{"group":"HiCCUPS Unique","cat":"CTCF ChIA-PET & RAD21 ChIA-PET","k":7,"n":360},
{"group":"HiCCUPS Unique","cat":"CTCF ChIA-PET & H3K27ac HiChIP","k":8,"n":25},
{"group":"HiCCUPS Unique","cat":"SMC1 HiChIP & RAD21 ChIA-PET","k":9,"n":5},
{"group":"HiCCUPS Unique","cat":"SMC1 HiChIP & H3K27ac HiChIP","k":10,"n":40},
{"group":"HiCCUPS Unique","cat":"RAD21 ChIA-PET & H3K27ac HiChIP","k":11,"n":15},
{"group":"HiCCUPS Unique","cat":"CTCF ChIA-PET only","k":12,"n":1085},
{"group":"HiCCUPS Unique","cat":"RAD21 ChIA-PET only","k":13,"n":27},
{"group":"HiCCUPS Unique","cat":"SMC1 HiChIP only","k":14,"n":55},
{"group":"HiCCUPS Unique","cat":"H3K27ac HiChIP only","k":15,"n":110},
{"group":"HiCCUPS Unique","cat":"Unique to Hi-C","k":16,"n":2449},
{"group":"Fit-Hi-C Unique","cat":"CTCF ChIA-PET & SMC1 HiChIP & RAD21 ChIA-PET & H3K27ac HiChIP","k":1,"n":36},
{"group":"Fit-Hi-C Unique","cat":"CTCF ChIA-PET & SMC1 HiChIP & RAD21 ChIA-PET","k":2,"n":90},
{"group":"Fit-Hi-C Unique","cat":"CTCF ChIA-PET & SMC1 HiChIP & H3K27ac HiChIP","k":3,"n":10},
{"group":"Fit-Hi-C Unique","cat":"CTCF ChIA-PET & RAD21 ChIA-PET & H3K27ac HiChIP","k":4,"n":15},
{"group":"Fit-Hi-C Unique","cat":"SMC1 HiChIP & RAD21 ChIA-PET & H3K27ac HiChIP","k":5,"n":5},
{"group":"Fit-Hi-C Unique","cat":"CTCF ChIA-PET & SMC1 HiChIP","k":6,"n":95},
{"group":"Fit-Hi-C Unique","cat":"CTCF ChIA-PET & RAD21 ChIA-PET","k":7,"n":272},
{"group":"Fit-Hi-C Unique","cat":"CTCF ChIA-PET & H3K27ac HiChIP","k":8,"n":25},
{"group":"Fit-Hi-C Unique","cat":"SMC1 HiChIP & RAD21 ChIA-PET","k":9,"n":5},
{"group":"Fit-Hi-C Unique","cat":"SMC1 HiChIP & H3K27ac HiChIP","k":10,"n":30},
{"group":"Fit-Hi-C Unique","cat":"RAD21 ChIA-PET & H3K27ac HiChIP","k":11,"n":15},
{"group":"Fit-Hi-C Unique","cat":"CTCF ChIA-PET only","k":12,"n":1120},
{"group":"Fit-Hi-C Unique","cat":"RAD21 ChIA-PET only","k":13,"n":37},
{"group":"Fit-Hi-C Unique","cat":"SMC1 HiChIP only","k":14,"n":36},
{"group":"Fit-Hi-C Unique","cat":"H3K27ac HiChIP only","k":15,"n":90},
{"group":"Fit-Hi-C Unique","cat":"Unique to Hi-C","k":16,"n":2798}
     ]},
     "mark": {"type": "bar"},
     "encoding": {
       "x": {"field": "group", "type": "nominal", "sort": null, "scale": {"paddingInner": 0.216, "paddingOuter": 0.162},
         "axis": {"title": null, "labelAngle": -30, "labelFontSize": 9.5, "tickSize": 4}},
       "y": {"field": "n", "type": "quantitative", "stack": "zero", "scale": {"domain": [0, 4845], "nice": false},
         "axis": {"values": [0, 1000, 2000, 3000, 4000], "format": "d", "title": "Loops predicted from GM12878 Hi-C", "titlePadding": 8, "labelFontSize": 9.5, "labelPadding": 1}},
       "color": {"field": "cat", "type": "nominal",
         "scale": {"domain": ["Unique to Hi-C", "H3K27ac HiChIP only", "SMC1 HiChIP only", "RAD21 ChIA-PET only", "CTCF ChIA-PET only", "RAD21 ChIA-PET & H3K27ac HiChIP", "SMC1 HiChIP & H3K27ac HiChIP", "SMC1 HiChIP & RAD21 ChIA-PET", "CTCF ChIA-PET & H3K27ac HiChIP", "CTCF ChIA-PET & RAD21 ChIA-PET", "CTCF ChIA-PET & SMC1 HiChIP", "SMC1 HiChIP & RAD21 ChIA-PET & H3K27ac HiChIP", "CTCF ChIA-PET & RAD21 ChIA-PET & H3K27ac HiChIP", "CTCF ChIA-PET & SMC1 HiChIP & H3K27ac HiChIP", "CTCF ChIA-PET & SMC1 HiChIP & RAD21 ChIA-PET", "CTCF ChIA-PET & SMC1 HiChIP & RAD21 ChIA-PET & H3K27ac HiChIP"],
           "range": ["#e7969c", "#d6616b", "#ad494a", "#843c39", "#e7cb94", "#e7ba52", "#bd9e39", "#8c6d31", "#cedb9c", "#b5cf6b", "#8ca252", "#637939", "#9c9ede", "#6b6ecf", "#5254a3", "#393b79"]},
         "legend": {"orient": "none", "legendX": 189, "legendY": -4.5, "title": null, "symbolType": "M-2.3,-1H2.3V1H-2.3Z", "symbolSize": 49, "symbolStrokeWidth": 0, "labelFontSize": 8.5, "rowPadding": 3.4, "labelOffset": 9.5, "labelLimit": 400}},
       "order": {"field": "k", "type": "quantitative"}
     }
    },
    {
     "data": {"values": [{"t": "ChIA-PET/HiChIP support for Hi-C loops"}]},
     "mark": {"type": "text", "fontSize": 9.5, "baseline": "middle", "dy": -8.7},
     "encoding": {
       "x": {"datum": "HiCCUPS Unique"},
       "y": {"datum": 4845, "type": "quantitative"},
       "text": {"field": "t"}
     }
    }
   ]
  }
 ]
}
]
}
